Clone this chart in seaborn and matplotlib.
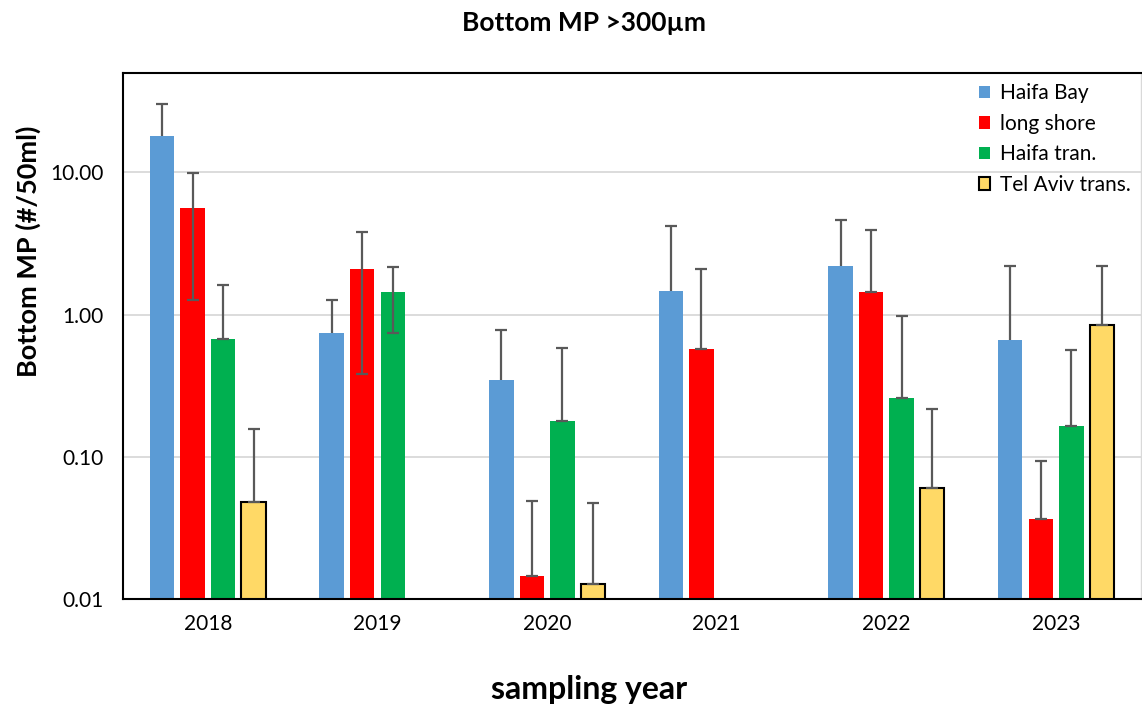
import numpy as np
import pandas as pd
import matplotlib
matplotlib.use("Agg")
import matplotlib.pyplot as plt
import seaborn as sns

# ---- data ----
years = ["2018", "2019", "2020", "2021", "2022", "2023"]
series = ["Haifa Bay", "long shore", "Haifa tran.", "Tel Aviv trans."]

haifa_bay = [18.1, 0.747, 0.345, 1.47, 2.20, 0.663]
long_shore = [5.61, 2.09, 0.0146, 0.573, 1.445, 0.0368]
haifa_tran = [0.672, 1.445, 0.178, np.nan, 0.260, 0.165]
tel_aviv = [0.0482, np.nan, 0.0128, np.nan, 0.0599, 0.846]

err_haifa_bay = [12.4, 0.52, 0.43, 2.74, 2.44, 1.52]
err_long_shore = [4.34, 1.71, 0.034, 1.52, 2.51, 0.057]
err_haifa_tran = [0.95, 0.70, 0.404, np.nan, 0.715, 0.396]
err_tel_aviv = [0.109, np.nan, 0.0346, np.nan, 0.156, 1.36]

values = [haifa_bay, long_shore, haifa_tran, tel_aviv]
errors = [err_haifa_bay, err_long_shore, err_haifa_tran, err_tel_aviv]
plus_only = [True, False, False, False]

colors = {"Haifa Bay": "#5B9BD5", "long shore": "#FF0000",
          "Haifa tran.": "#00B050", "Tel Aviv trans.": "#FFD966"}

rows = []
for s, vals in zip(series, values):
    for y, v in zip(years, vals):
        rows.append({"year": y, "series": s, "value": v})
df = pd.DataFrame(rows).dropna()

# ---- plot ----
sns.set_theme(style="white")
plt.rcParams["font.family"] = ["Lato", "DejaVu Sans"]
plt.rcParams["text.color"] = "black"
plt.rcParams["xtick.color"] = "black"
plt.rcParams["ytick.color"] = "black"

fig = plt.figure(figsize=(11.42, 7.04), dpi=100)
ax = fig.add_axes([0.1077, 0.1491, 0.8913, 0.7472])

sns.barplot(data=df, x="year", y="value", hue="series", order=years,
            hue_order=series, palette=colors, saturation=1, width=0.72,
            gap=0.2, errorbar=None, linewidth=0, ax=ax, zorder=2)

ax.set_yscale("log")
ax.set_ylim(0.01, 50)
ax.set_xlim(-0.5, 5.5)

# yellow bars with black outline
for p in ax.containers[3]:
    p.set_edgecolor("black")
    p.set_linewidth(1.5)

# error bars
for i, s in enumerate(series):
    bars = list(ax.containers[i])
    vals = np.array(values[i], dtype=float)
    errs = np.array(errors[i], dtype=float)
    mask = ~np.isnan(vals)
    vals, errs = vals[mask], errs[mask]
    x = np.array([b.get_x() + b.get_width() / 2 for b in bars])
    y = np.array([b.get_height() for b in bars])
    lower = np.where(vals - errs > 0, errs, 0.0)
    if plus_only[i]:
        lower = np.zeros_like(errs)
    eb = ax.errorbar(x, y, yerr=[lower, errs], fmt="none", ecolor="#595959",
                     elinewidth=1.6, capsize=4.5, capthick=1.6, zorder=3)
    if plus_only[i]:
        for cap in eb[1]:
            if np.allclose(cap.get_ydata(), y):
                cap.set_visible(False)

# axes styling
ax.set_axisbelow(True)
ax.yaxis.grid(True, which="major", color="#D9D9D9", linewidth=1.3)
ax.xaxis.grid(False)
ax.minorticks_off()
ax.set_yticks([0.01, 0.1, 1, 10])
ax.set_yticklabels(["0.01", "0.10", "1.00", "10.00"])
ax.tick_params(axis="both", length=0, labelsize=15, colors="black",
               labelcolor="black")
ax.tick_params(axis="y", pad=14)
ax.tick_params(axis="x", pad=11)
for side in ["left", "bottom", "top"]:
    ax.spines[side].set_color("black")
    ax.spines[side].set_linewidth(1.5)
ax.spines["right"].set_color("#D9D9D9")
ax.spines["right"].set_linewidth(1.0)
ax.set_xlabel("")
ax.set_ylabel("")

# legend
handles, labels = ax.get_legend_handles_labels()
if ax.get_legend() is not None:
    ax.get_legend().remove()
leg = ax.legend(handles, labels, loc="upper right", frameon=False, fontsize=15,
                handlelength=0.55, handleheight=0.55, handletextpad=0.45,
                labelspacing=0.5, borderaxespad=0.2, borderpad=0.3)
for t in leg.get_texts():
    t.set_color("black")
yh = leg.legend_handles[3]
yh.set_edgecolor("black")
yh.set_linewidth(1.5)

# titles
fig.text(0.511, 0.967, "Bottom MP >300µm", ha="center", va="center",
         fontsize=19, fontweight="bold", color="black")
fig.text(0.025, 0.643, "Bottom MP (#/50ml)", ha="center", va="center",
         rotation=90, fontsize=19.5, fontweight="bold", color="black")
fig.text(0.516, 0.021, "sampling year", ha="center", va="center",
         fontsize=23, fontweight="bold", color="black")

fig.savefig("out.png", dpi=100)
